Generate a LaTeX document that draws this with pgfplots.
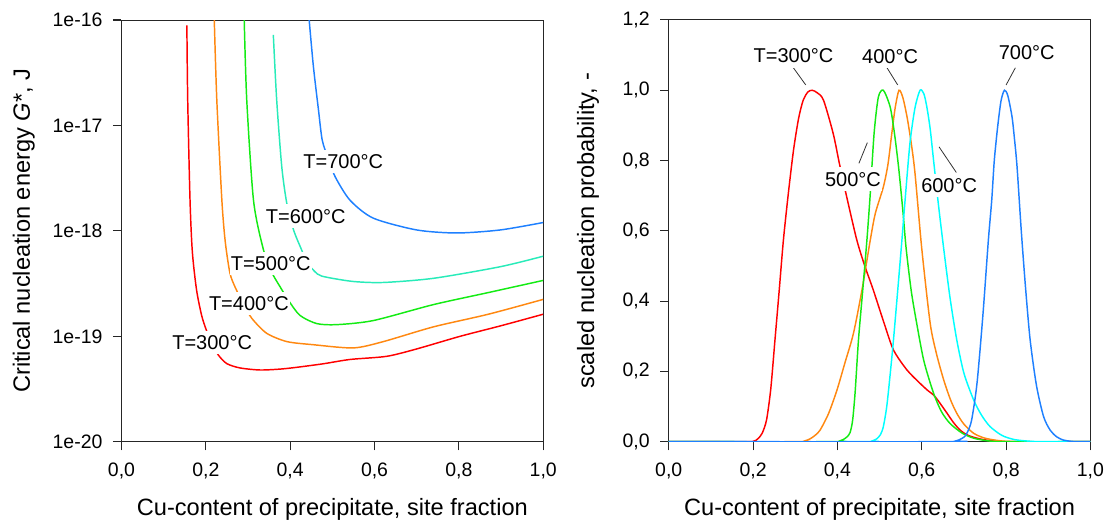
\documentclass[border=0pt]{standalone}
\usepackage{fontspec}
\setmainfont{Liberation Sans}
\usepackage{pgfplots}
\pgfplotsset{compat=1.18}

\definecolor{cT300}{RGB}{255,0,0}
\definecolor{cT400}{RGB}{255,136,17}
\definecolor{cT500}{RGB}{20,235,20}
\definecolor{cT600a}{RGB}{40,235,185}
\definecolor{cT600b}{RGB}{0,255,255}
\definecolor{cT700}{RGB}{30,128,255}

\tikzset{
  lbl/.style={fill=white, inner xsep=1pt, inner ysep=3.5pt, font=\fontsize{15}{18}\selectfont},
  leader/.style={black!80, line width=0.6pt},
}

\pgfplotsset{
  panel/.style={
    scale only axis,
    width=316.3pt, height=316.3pt,
    xmin=0, xmax=1,
    xtick={0,0.2,0.4,0.6,0.8,1},
    xticklabels={{0,0},{0,2},{0,4},{0,6},{0,8},{1,0}},
    tick align=outside,
    tick pos=left,
    major tick length=6.5pt,
    axis line style={black!85, line width=0.75pt},
    major tick style={draw=black!85, line width=0.8pt},
    xticklabel style={font=\fontsize{14.6}{17}\selectfont, inner sep=0pt, anchor=base, yshift=-19.4pt},
    yticklabel style={font=\fontsize{14.6}{17}\selectfont, inner sep=0pt, anchor=east, xshift=-7.6pt},
    xlabel={Cu-content of precipitate, site fraction},
    every axis x label/.style={at={(axis description cs:0.5,-0.176)}, anchor=base,
      font=\fontsize{17.7}{21}\selectfont},
    every axis plot/.append style={line width=1.1pt, smooth, tension=0.45},
  },
}

\begin{document}
\begin{tikzpicture}
\useasboundingbox (0pt,0pt) rectangle (832.5pt,391.5pt);

% ---- critical nucleation energy ----
\begin{axis}[panel,
  at={(91.125pt,60.225pt)}, anchor=south west,
  ymode=log, ymin=1e-20, ymax=1e-16,
  ytick={1e-20,1e-19,1e-18,1e-17,1e-16},
  yticklabels={1e-20,1e-19,1e-18,1e-17,1e-16},
  yminorticks=false,
  ylabel={Critical nucleation energy \textit{G}*, J},
  every axis y label/.style={at={(axis description cs:-0.217,0.5)}, rotate=90, anchor=base,
    font=\fontsize{17.7}{21}\selectfont},
]
\addplot[cT300] table {
0.155 8.91e-17
0.157 1.74e-17
0.1625 1.95e-18
0.168 6.31e-19
0.178 2.75e-19
0.190 1.58e-19
0.201 1.15e-19
0.215 8.51e-20
0.230 6.61e-20
0.250 5.50e-20
0.281 5.01e-20
0.329 4.79e-20
0.380 4.90e-20
0.424 5.13e-20
0.480 5.50e-20
0.542 6.03e-20
0.629 6.46e-20
0.700 7.59e-20
0.803 1.00e-19
0.900 1.26e-19
1.000 1.62e-19
};
\addplot[cT400] table {
0.220 1.00e-16
0.226 1.74e-17
0.238 1.95e-18
0.246 7.9e-19
0.257 4.0e-19
0.269 2.95e-19
0.290 2.0e-19
0.309 1.48e-19
0.344 1.07e-19
0.392 8.91e-20
0.455 8.32e-20
0.550 7.76e-20
0.621 8.91e-20
0.740 1.23e-19
0.870 1.62e-19
1.000 2.24e-19
};
\addplot[cT500] table {
0.291 1.00e-16
0.297 1.74e-17
0.313 1.95e-18
0.336 6.76e-19
0.356 4.07e-19
0.376 2.95e-19
0.396 2.19e-19
0.423 1.58e-19
0.463 1.32e-19
0.510 1.29e-19
0.597 1.41e-19
0.740 2.00e-19
0.870 2.60e-19
1.000 3.39e-19
};
\addplot[cT600a] table {
0.360 7.24e-17
0.368 1.74e-17
0.380 4.07e-18
0.392 1.82e-18
0.408 1.02e-18
0.427 6.61e-19
0.440 5.0e-19
0.465 3.89e-19
0.487 3.63e-19
0.550 3.31e-19
0.621 3.24e-19
0.740 3.55e-19
0.898 4.57e-19
1.000 5.75e-19
};
\addplot[cT700] table {
0.445 1.00e-16
0.455 3.63e-17
0.467 1.41e-17
0.476 7.24e-18
0.490 4.9e-18
0.507 3.24e-18
0.542 1.95e-18
0.597 1.32e-18
0.700 1.02e-18
0.795 9.55e-19
0.898 1.02e-18
1.000 1.20e-18
};
\node[lbl] at (axis cs:0.526,4.57e-18) {T=700°C};
\node[lbl] at (axis cs:0.437,1.38e-18) {T=600°C};
\node[lbl] at (axis cs:0.354,4.9e-19) {T=500°C};
\node[lbl] at (axis cs:0.302,2.04e-19) {T=400°C};
\node[lbl] at (axis cs:0.215,8.7e-20) {T=300°C};
\end{axis}

% ---- scaled nucleation probability ----
\begin{axis}[panel,
  at={(501.525pt,60.225pt)}, anchor=south west,
  ymin=0, ymax=1.2,
  ytick={0,0.2,0.4,0.6,0.8,1,1.2},
  yticklabels={{0,0},{0,2},{0,4},{0,6},{0,8},{1,0},{1,2}},
  ylabel={scaled nucleation probability, -},
  every axis y label/.style={at={(axis description cs:-0.177,0.5)}, rotate=90, anchor=base,
    font=\fontsize{17.7}{21}\selectfont},
]
\addplot[cT300] table {
0 0
0.190 0
0.200 0.001
0.207 0.004
0.213 0.01
0.222 0.025
0.232 0.062
0.242 0.15
0.252 0.29
0.262 0.43
0.272 0.574
0.284 0.71
0.296 0.83
0.308 0.92
0.319 0.972
0.330 0.995
0.340 1.0
0.352 0.993
0.367 0.972
0.390 0.877
0.405 0.79
0.422 0.697
0.446 0.574
0.465 0.50
0.485 0.432
0.510 0.34
0.533 0.261
0.565 0.204
0.596 0.166
0.615 0.145
0.628 0.133
0.640 0.115
0.660 0.081
0.675 0.055
0.691 0.033
0.710 0.018
0.738 0.008
0.770 0.002
0.820 0
1.000 0
};
\addplot[cT400] table {
0 0
0.310 0
0.322 0.002
0.335 0.008
0.347 0.018
0.359 0.033
0.379 0.08
0.399 0.147
0.418 0.225
0.438 0.308
0.458 0.43
0.478 0.574
0.490 0.65
0.509 0.725
0.520 0.79
0.529 0.877
0.537 0.95
0.546 1.0
0.555 0.98
0.565 0.925
0.575 0.85
0.584 0.764
0.600 0.55
0.620 0.337
0.635 0.25
0.652 0.176
0.668 0.12
0.683 0.081
0.700 0.05
0.723 0.024
0.750 0.01
0.790 0.002
0.840 0
1.000 0
};
\addplot[cT500] table {
0 0
0.395 0
0.405 0.002
0.415 0.007
0.423 0.014
0.430 0.026
0.436 0.06
0.442 0.14
0.450 0.29
0.460 0.43
0.470 0.574
0.478 0.707
0.487 0.877
0.497 0.98
0.509 1.0
0.525 0.953
0.535 0.88
0.545 0.782
0.555 0.66
0.563 0.55
0.575 0.43
0.588 0.337
0.605 0.23
0.628 0.138
0.647 0.085
0.667 0.052
0.695 0.025
0.723 0.01
0.760 0.002
0.800 0
1.000 0
};
\addplot[cT600b] table {
0 0
0.470 0
0.482 0.002
0.493 0.008
0.502 0.02
0.509 0.043
0.517 0.10
0.525 0.19
0.533 0.29
0.543 0.43
0.553 0.574
0.560 0.68
0.572 0.849
0.584 0.95
0.596 1.0
0.605 0.99
0.612 0.953
0.620 0.89
0.628 0.801
0.640 0.67
0.652 0.55
0.667 0.41
0.683 0.29
0.700 0.195
0.723 0.119
0.742 0.075
0.762 0.043
0.790 0.018
0.820 0.006
0.860 0.001
0.900 0
1.000 0
};
\addplot[cT700] table {
0 0
0.668 0
0.680 0.002
0.690 0.006
0.700 0.013
0.707 0.024
0.718 0.06
0.731 0.166
0.745 0.36
0.758 0.574
0.766 0.688
0.772 0.80
0.780 0.896
0.788 0.97
0.796 1.0
0.804 0.985
0.814 0.925
0.820 0.86
0.826 0.782
0.836 0.60
0.846 0.44
0.857 0.29
0.872 0.16
0.889 0.071
0.905 0.032
0.920 0.014
0.935 0.005
0.955 0.001
0.975 0
1.000 0
};
\draw[leader] (axis cs:0.292,1.070) -- (axis cs:0.325,1.015);
\draw[leader] (axis cs:0.515,1.069) -- (axis cs:0.543,1.015);
\draw[leader] (axis cs:0.822,1.064) -- (axis cs:0.800,1.015);
\draw[leader] (axis cs:0.451,0.792) -- (axis cs:0.471,0.851);
\draw[leader] (axis cs:0.682,0.766) -- (axis cs:0.641,0.839);
\node[lbl] at (axis cs:0.296,1.098) {T=300°C};
\node[lbl] at (axis cs:0.525,1.097) {400°C};
\node[lbl] at (axis cs:0.849,1.107) {700°C};
\node[lbl] at (axis cs:0.437,0.747) {500°C};
\node[lbl] at (axis cs:0.665,0.729) {600°C};
\end{axis}
\end{tikzpicture}
\end{document}
